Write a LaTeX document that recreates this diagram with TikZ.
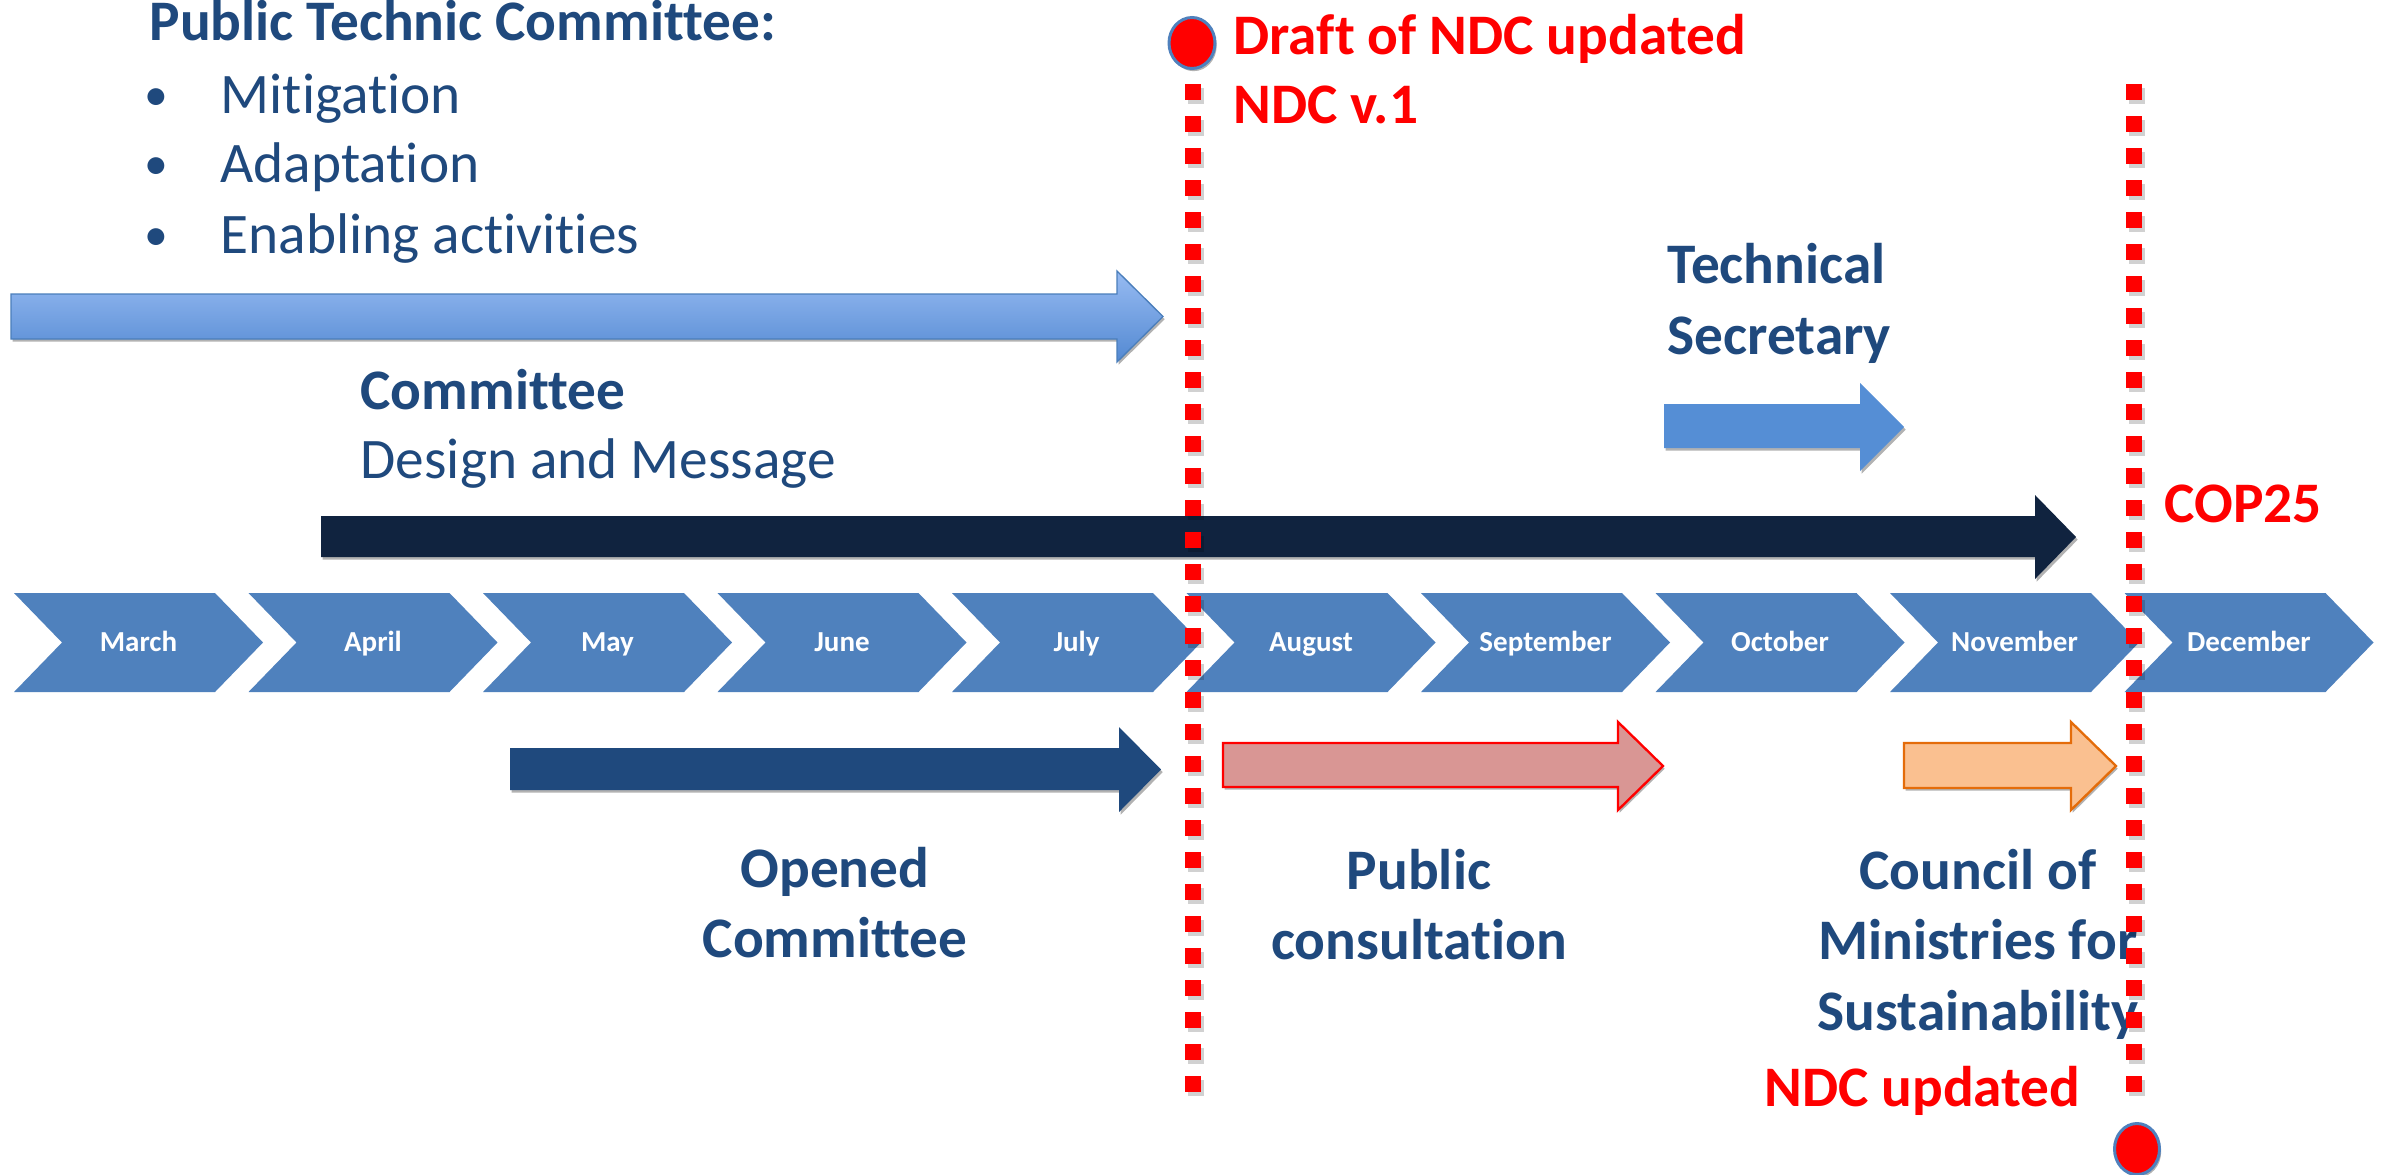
\documentclass[tikz,border=0pt]{standalone}
\usepackage{fontspec}
\setmainfont{Carlito}[Ligatures={NoCommon}]
\usetikzlibrary{shadows}
\definecolor{navytxt}{HTML}{1F497D}
\definecolor{chev}{HTML}{4F81BD}
\definecolor{darknavy}{HTML}{10233F}
\definecolor{openedc}{HTML}{1F497D}
\definecolor{techblue}{HTML}{558ED5}
\definecolor{pinkfill}{HTML}{D99694}
\definecolor{orangefill}{HTML}{FAC090}
\definecolor{orangeline}{HTML}{E46C0A}
\definecolor{lightborder}{HTML}{4A7EBB}
\definecolor{lighttop}{HTML}{97BBF2}
\definecolor{lightbot}{HTML}{5389D2}
\definecolor{dotborder}{HTML}{4F81BD}
\tikzset{
  bigtxt/.style={font=\fontsize{17.2}{20}\selectfont, inner sep=0pt, text=navytxt},
  bigbold/.style={font=\fontsize{17.2}{20}\selectfont\bfseries, inner sep=0pt, text=navytxt},
  redbold/.style={font=\fontsize{17.2}{20}\selectfont\bfseries, inner sep=0pt, text=red},
  bullettxt/.style={font=\fontsize{14.3}{16}\selectfont, inner sep=0pt, text=navytxt, anchor=base west},
  monthtxt/.style={font=\fontsize{8.7}{10}\selectfont\bfseries, text=white, inner sep=0pt, anchor=base},
  shad/.style={drop shadow={shadow xshift=0.5pt, shadow yshift=-0.8pt, opacity=0.3, fill=black}},
  redline/.style={line width=4.8pt, dash pattern=on 4.8pt off 4.8pt, red},
  redlineshadow/.style={line width=4.8pt, dash pattern=on 4.8pt off 4.8pt, black, opacity=0.18},
  reddot/.style={fill=red, draw=dotborder, line width=0.9pt},
}
% #1 style, #2 left, #3 body top, #4 body bottom, #5 head start, #6 tip, #7 head top, #8 head bottom
\newcommand{\blockarr}[8]{%
  \path[#1] (#2,#3) -- (#5,#3) -- (#5,#7) -- (#6,{(#7+#8)/2}) -- (#5,#8) -- (#5,#4) -- (#2,#4) -- cycle;}
\begin{document}
\begin{tikzpicture}[x=0.3pt,y=-0.3pt]
\useasboundingbox (0,0) rectangle (2388,1174);
\clip (0,0) rectangle (2388,1174);
\fill[white] (0,0) rectangle (2388,1174);

% chevrons
\foreach \m [count=\i from 0] in {March,April,May,June,July,August,September,October,November,December}{
  \pgfmathsetmacro\L{14+234.5*\i}
  \fill[chev] (\L,593) -- ++(201,0) -- ++(48,49.5) -- ++(-48,49.5) -- ++(-201,0) -- ++(48,-49.5) -- cycle;
  \node[monthtxt] (m\i) at ({\L+124.5},651) {\m};
}

% block arrows
\blockarr{shad, top color=lighttop, bottom color=lightbot, draw=lightborder, line width=0.4pt}{11}{294}{339}{1117}{1163}{271}{362}
\blockarr{shad, fill=darknavy}{321}{516}{557}{2035}{2076}{495}{579}
\blockarr{shad, fill=techblue}{1664}{404}{448}{1860}{1904}{383}{471}
\blockarr{shad, fill=openedc}{510}{748}{790}{1119}{1161}{727}{812}
\blockarr{shad, fill=pinkfill, draw=red, line width=0.7pt}{1223}{743}{787}{1618}{1663}{722}{810}
\blockarr{shad, fill=orangefill, draw=orangeline, line width=0.7pt}{1904}{743}{788}{2071}{2116}{722}{810}

% texts
\node[bigbold, anchor=base west] (ptc) at (149,40) {Public Technic Committee:};
\node[bullettxt] (bu1) at (144,110) {•};
\node[bigtxt, anchor=base west] (mit) at (220,113) {Mitigation};
\node[bullettxt] (bu2) at (144,179) {•};
\node[bigtxt, anchor=base west] (ada) at (220,182) {Adaptation};
\node[bullettxt] (bu3) at (144,250) {•};
\node[bigtxt, anchor=base west] (ena) at (220,253) {Enabling activities};

\node[bigbold, anchor=base west] (com) at (360,409) {Committee};
\node[bigtxt, anchor=base west] (dam) at (360,478) {Design and Message};

\node[bigbold, anchor=base west] (tec) at (1667,283) {Technical};
\node[bigbold, anchor=base west] (sec) at (1667,354) {Secretary};

\node[redbold, anchor=base west] (draft) at (1233,54) {Draft of NDC updated};
\node[redbold, anchor=base west] (ndcv) at (1233,123) {NDC v.1};
\node[redbold, anchor=base west] (cop) at (2164,522) {COP25};

\node[bigbold, anchor=base] (op1) at (835,887) {Opened};
\node[bigbold, anchor=base] (op2) at (835,957) {Committee};
\node[bigbold, anchor=base] (pc1) at (1419,889) {Public};
\node[bigbold, anchor=base] (pc2) at (1419,959) {consultation};
\node[bigbold, anchor=base] (cm1) at (1978,889) {Council of};
\node[bigbold, anchor=base] (cm2) at (1978,959) {Ministries for};
\node[bigbold, anchor=base] (cm3) at (1978,1030) {Sustainability};
\node[redbold, anchor=base east] (ndcu) at (2081,1106) {NDC updated};

% dotted red lines
\draw[redlineshadow] (1196,88) -- (1196,1096);
\draw[redlineshadow] (2137,88) -- (2137,1096);
\draw[redline] (1193,84) -- (1193,1092);
\draw[redline] (2134,84) -- (2134,1092);

% red dots
\draw[reddot, shad] (1192,43) ellipse [x radius=23, y radius=25.5];
\draw[reddot, shad] (2137,1149) ellipse [x radius=22.5, y radius=25.5];
\end{tikzpicture}
\end{document}
